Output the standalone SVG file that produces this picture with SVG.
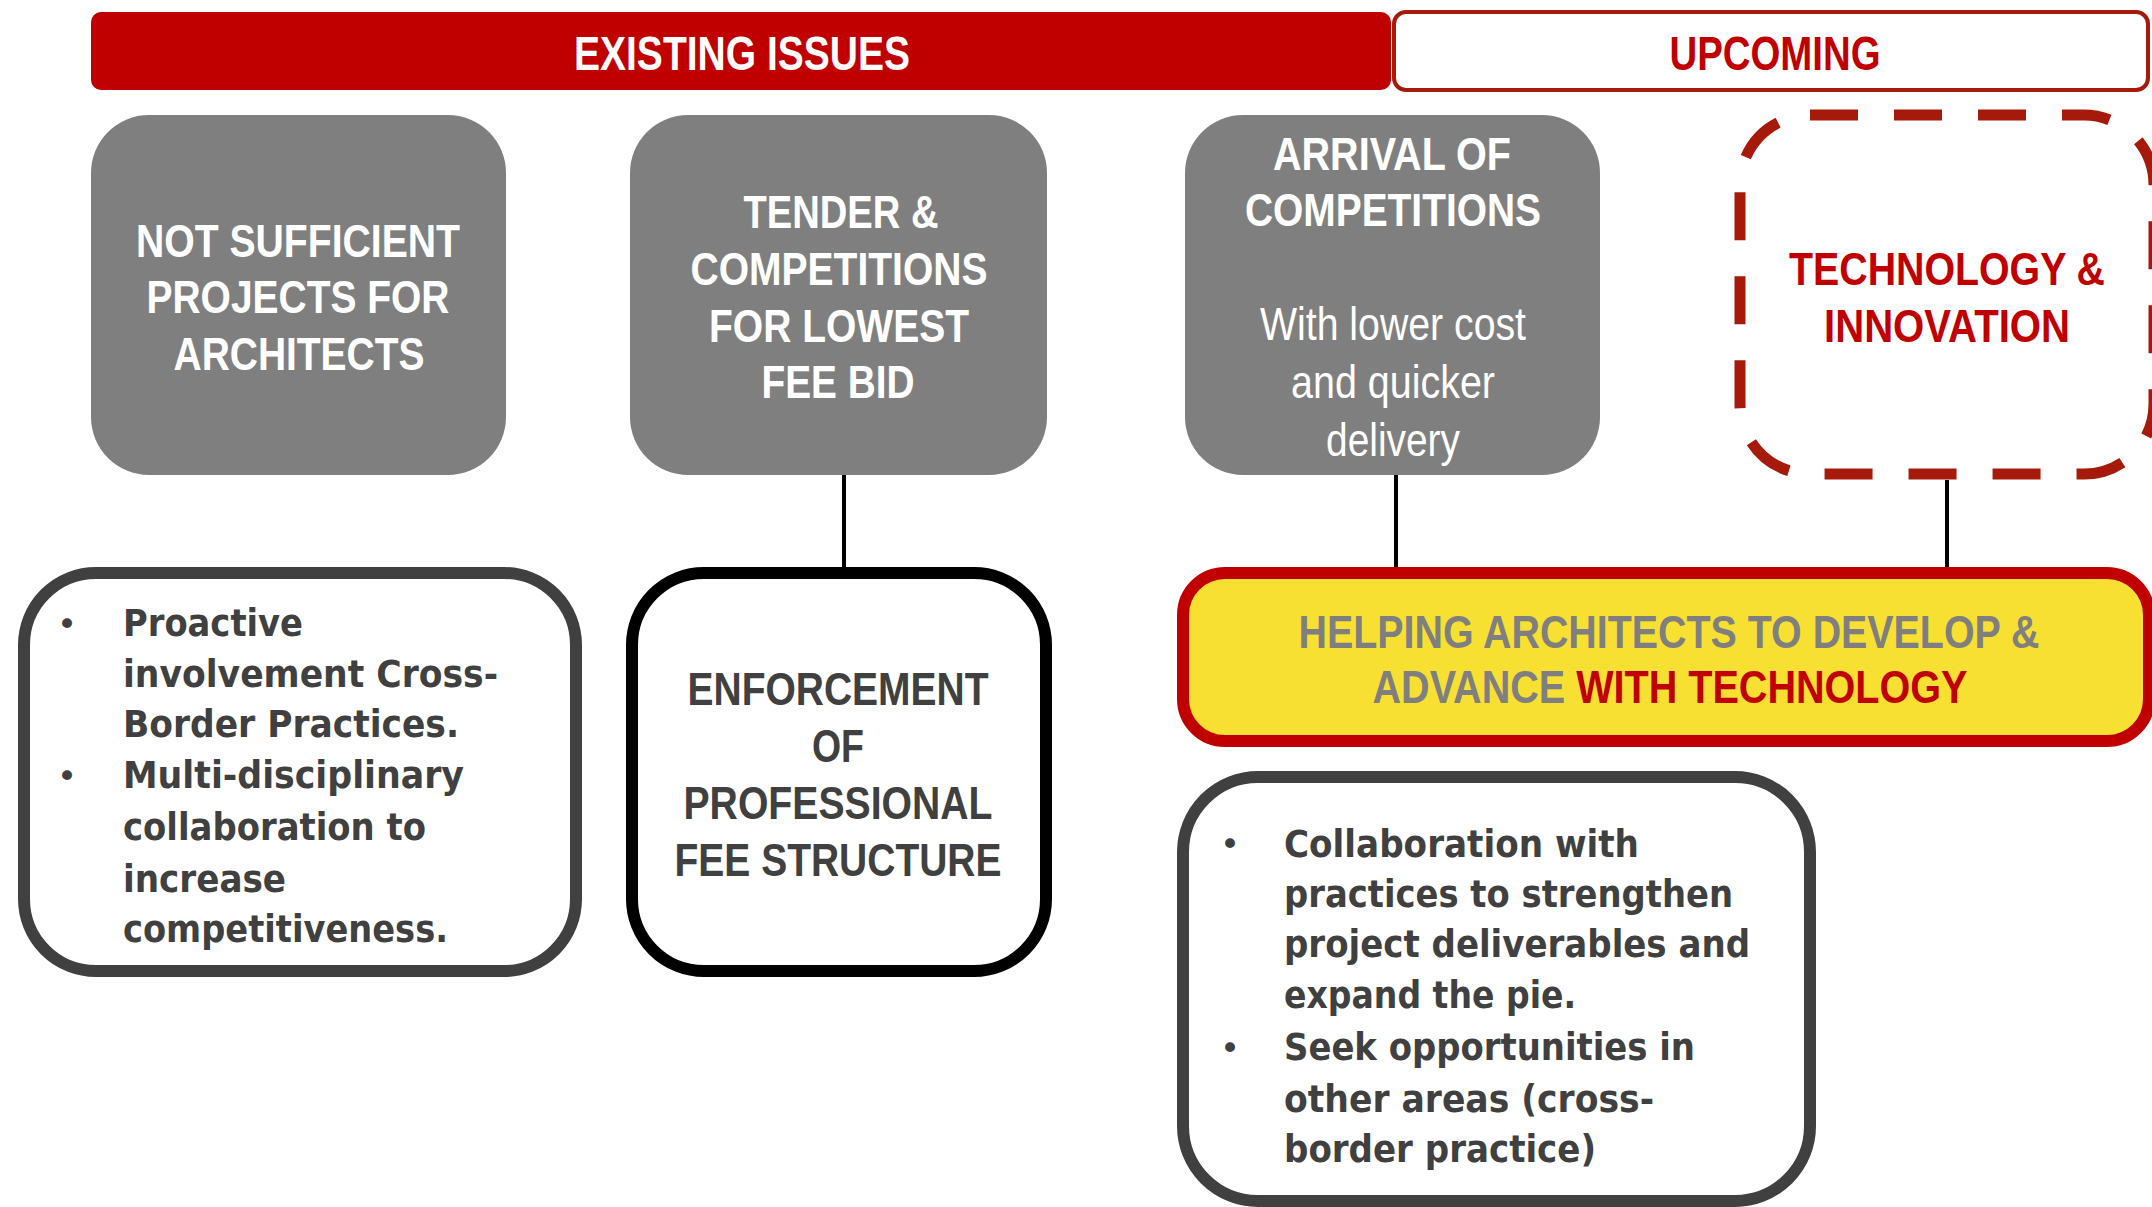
<svg xmlns="http://www.w3.org/2000/svg" width="2152" height="1207" viewBox="0 0 2152 1207">
<style>
.hd{font-family:"Liberation Sans Narrow","Liberation Sans",Arial,sans-serif;font-weight:bold;text-anchor:middle}
.gt{fill:#FFFFFF;font-size:47px}
.bt{font-family:"DejaVu Sans Condensed","DejaVu Sans",sans-serif;font-weight:bold;font-size:37px;fill:#404040}
.bul{font-family:"DejaVu Sans",sans-serif;font-size:34px;fill:#404040;text-anchor:middle}
.grey{fill:#7F7F7F}
.conn{stroke:#000000;stroke-width:4;fill:none}
</style>
<rect width="2152" height="1207" fill="#FFFFFF"/>

<g id="header-existing">
<rect x="91" y="12" width="1300" height="78" rx="10" fill="#C00000"/>
<text class="hd" x="742" y="70" font-size="49" fill="#FFFFFF" textLength="336" lengthAdjust="spacingAndGlyphs">EXISTING ISSUES</text>
</g>
<g id="header-upcoming">
<rect x="1394" y="12" width="754" height="78" rx="12" fill="#FFFFFF" stroke="#A51A0A" stroke-width="4"/>
<text class="hd" x="1775" y="70" font-size="49" fill="#C00000" textLength="211" lengthAdjust="spacingAndGlyphs">UPCOMING</text>
</g>

<g id="connectors">
<line class="conn" x1="844" y1="474" x2="844" y2="568"/>
<line class="conn" x1="1396" y1="474" x2="1396" y2="568"/>
<line class="conn" x1="1947" y1="480" x2="1947" y2="568"/>
</g>

<g id="node-not-sufficient">
<rect class="grey" x="91" y="115" width="415" height="360" rx="58"/>
<text class="hd gt" x="298" y="257" textLength="324" lengthAdjust="spacingAndGlyphs">NOT SUFFICIENT</text>
<text class="hd gt" x="298" y="313" textLength="303" lengthAdjust="spacingAndGlyphs">PROJECTS FOR</text>
<text class="hd gt" x="299" y="370" textLength="251" lengthAdjust="spacingAndGlyphs">ARCHITECTS</text>
</g>

<g id="node-tender">
<rect class="grey" x="630" y="115" width="417" height="360" rx="58"/>
<text class="hd gt" x="841" y="228" textLength="195" lengthAdjust="spacingAndGlyphs">TENDER &amp;</text>
<text class="hd gt" x="839" y="285" textLength="297" lengthAdjust="spacingAndGlyphs">COMPETITIONS</text>
<text class="hd gt" x="839" y="342" textLength="260" lengthAdjust="spacingAndGlyphs">FOR LOWEST</text>
<text class="hd gt" x="838" y="398" textLength="153" lengthAdjust="spacingAndGlyphs">FEE BID</text>
</g>

<g id="node-arrival">
<rect class="grey" x="1185" y="115" width="415" height="360" rx="58"/>
<text class="hd gt" x="1392" y="170" textLength="238" lengthAdjust="spacingAndGlyphs">ARRIVAL OF</text>
<text class="hd gt" x="1393" y="226" textLength="296" lengthAdjust="spacingAndGlyphs">COMPETITIONS</text>
<text class="hd" x="1393" y="340" font-size="47" font-weight="normal" style="font-weight:normal" fill="#FFFFFF" textLength="266" lengthAdjust="spacingAndGlyphs">With lower cost</text>
<text class="hd" x="1393" y="398" font-size="47" style="font-weight:normal" fill="#FFFFFF" textLength="204" lengthAdjust="spacingAndGlyphs">and quicker</text>
<text class="hd" x="1393" y="456" font-size="47" style="font-weight:normal" fill="#FFFFFF" textLength="134" lengthAdjust="spacingAndGlyphs">delivery</text>
</g>

<g id="node-technology">
<rect x="1740" y="115" width="414" height="359" rx="70" fill="#FFFFFF" stroke="#A51A0A" stroke-width="11" stroke-dasharray="48 36"/>
<text class="hd" x="1947" y="285" font-size="47" fill="#C00000" textLength="316" lengthAdjust="spacingAndGlyphs">TECHNOLOGY &amp;</text>
<text class="hd" x="1947" y="342" font-size="47" fill="#C00000" textLength="246" lengthAdjust="spacingAndGlyphs">INNOVATION</text>
</g>

<g id="node-crossborder">
<rect x="24" y="573" width="552" height="398" rx="72" fill="#FFFFFF" stroke="#404040" stroke-width="12"/>
<text class="bul" x="67" y="636">•</text>
<text class="bul" x="67" y="788">•</text>
<text class="bt" x="123" y="636" textLength="180" lengthAdjust="spacingAndGlyphs">Proactive</text>
<text class="bt" x="123" y="687" textLength="375" lengthAdjust="spacingAndGlyphs">involvement Cross-</text>
<text class="bt" x="123" y="737" textLength="336" lengthAdjust="spacingAndGlyphs">Border Practices.</text>
<text class="bt" x="123" y="788" textLength="341" lengthAdjust="spacingAndGlyphs">Multi-disciplinary</text>
<text class="bt" x="123" y="840" textLength="303" lengthAdjust="spacingAndGlyphs">collaboration to</text>
<text class="bt" x="123" y="892" textLength="163" lengthAdjust="spacingAndGlyphs">increase</text>
<text class="bt" x="123" y="942" textLength="325" lengthAdjust="spacingAndGlyphs">competitiveness.</text>
</g>

<g id="node-enforcement">
<rect x="632" y="573" width="414" height="398" rx="72" fill="#FFFFFF" stroke="#000000" stroke-width="12"/>
<text class="hd" x="838" y="705" font-size="47" fill="#404040" textLength="301" lengthAdjust="spacingAndGlyphs">ENFORCEMENT</text>
<text class="hd" x="838" y="762" font-size="47" fill="#404040" textLength="52" lengthAdjust="spacingAndGlyphs">OF</text>
<text class="hd" x="838" y="819" font-size="47" fill="#404040" textLength="309" lengthAdjust="spacingAndGlyphs">PROFESSIONAL</text>
<text class="hd" x="838" y="876" font-size="47" fill="#404040" textLength="327" lengthAdjust="spacingAndGlyphs">FEE STRUCTURE</text>
</g>

<g id="node-helping">
<rect x="1183" y="573" width="966" height="168" rx="42" fill="#F8E032" stroke="#C00000" stroke-width="12"/>
<text class="hd" x="1669" y="648" font-size="47" fill="#7F7F7F" textLength="741" lengthAdjust="spacingAndGlyphs">HELPING ARCHITECTS TO DEVELOP &amp;</text>
<text class="hd" x="1670" y="703" font-size="47" fill="#7F7F7F" textLength="595" lengthAdjust="spacingAndGlyphs">ADVANCE <tspan fill="#C00000">WITH TECHNOLOGY</tspan></text>
</g>

<g id="node-collaboration">
<rect x="1183" y="777" width="627" height="424" rx="75" fill="#FFFFFF" stroke="#404040" stroke-width="12"/>
<text class="bul" x="1230" y="856">•</text>
<text class="bul" x="1230" y="1060">•</text>
<text class="bt" x="1284" y="857" textLength="355" lengthAdjust="spacingAndGlyphs">Collaboration with</text>
<text class="bt" x="1284" y="907" textLength="449" lengthAdjust="spacingAndGlyphs">practices to strengthen</text>
<text class="bt" x="1284" y="957" textLength="466" lengthAdjust="spacingAndGlyphs">project deliverables and</text>
<text class="bt" x="1284" y="1008" textLength="292" lengthAdjust="spacingAndGlyphs">expand the pie.</text>
<text class="bt" x="1284" y="1060" textLength="411" lengthAdjust="spacingAndGlyphs">Seek opportunities in</text>
<text class="bt" x="1284" y="1112" textLength="370" lengthAdjust="spacingAndGlyphs">other areas (cross-</text>
<text class="bt" x="1284" y="1162" textLength="312" lengthAdjust="spacingAndGlyphs">border practice)</text>
</g>
</svg>
